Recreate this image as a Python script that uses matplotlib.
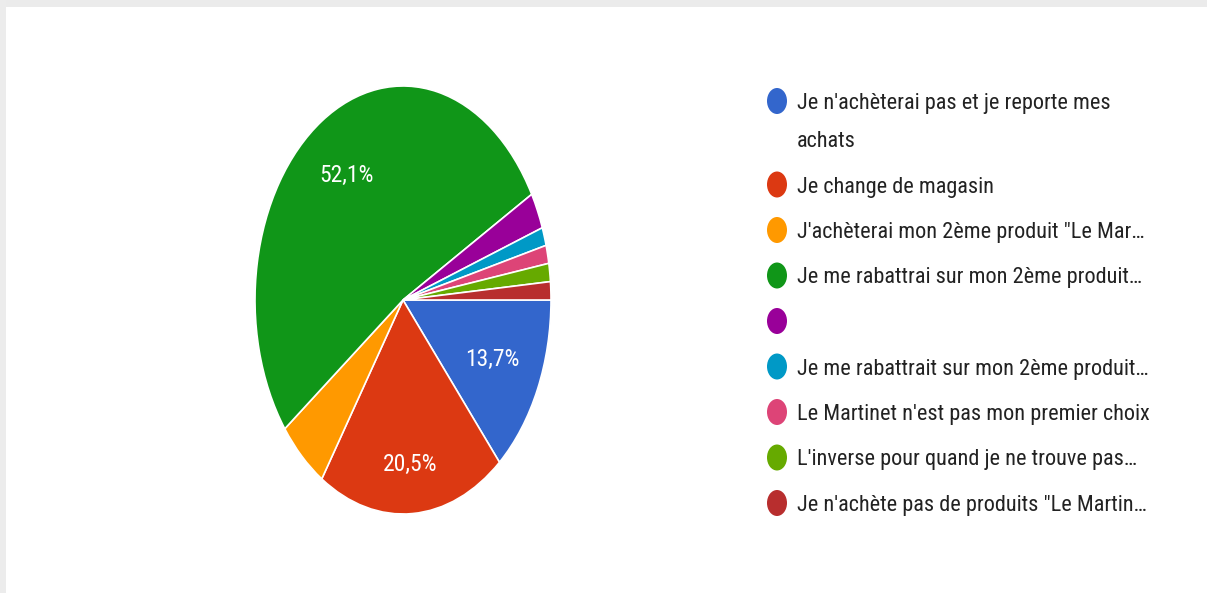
import numpy as np
import matplotlib
matplotlib.use("Agg")
import matplotlib.pyplot as plt
from matplotlib import font_manager
from matplotlib.font_manager import FontProperties
from matplotlib.patches import Ellipse, Rectangle

# Survey answers (73 respondents)
labels = [
    "Je n'achèterai pas et je reporte mes\nachats",
    "Je change de magasin",
    "J'achèterai mon 2ème produit \"Le Mar…",
    "Je me rabattrai sur mon 2ème produit…",
    "",
    "Je me rabattrait sur mon 2ème produit…",
    "Le Martinet n'est pas mon premier choix",
    "L'inverse pour quand je ne trouve pas…",
    "Je n'achète pas de produits \"Le Martin…",
]
counts = [10, 15, 4, 38, 2, 1, 1, 1, 1]
colors = ["#3366cc", "#dc3912", "#ff9900", "#109618", "#990099",
          "#0099c6", "#dd4477", "#66aa00", "#b82e2e"]

W, H = 1207, 593


def pick_font():
    """Prefer a narrow sans face; fall back to Roboto."""
    entries = font_manager.fontManager.ttflist
    names = {f.name for f in entries}
    for name in ("Roboto Condensed", "Liberation Sans Narrow",
                 "Open Sans Condensed", "Noto Sans Condensed"):
        if name in names:
            return FontProperties(family=name)
    for fam in ("Roboto", "Open Sans", "Noto Sans", "DejaVu Sans", "Lato"):
        for st in ("condensed", "semi-condensed"):
            if any(f.name == fam and f.stretch == st and f.style == "normal"
                   for f in entries):
                return FontProperties(family=fam, stretch=st)
    return FontProperties(family="Roboto")


base_font = pick_font()

fig = plt.figure(figsize=(W / 100, H / 100), dpi=100)
fig.patch.set_facecolor("white")

# page frame: grey strip on top and on the left
fig.add_artist(Rectangle((0, 1 - 7 / H), 1, 7 / H, transform=fig.transFigure,
                         facecolor="#ebebeb", edgecolor="none", zorder=0))
fig.add_artist(Rectangle((0, 0), 6 / W, 1, transform=fig.transFigure,
                         facecolor="#ececec", edgecolor="none", zorder=0))


def px_axes(x0, y0, x1, y1):
    return fig.add_axes([x0 / W, 1 - y1 / H, (x1 - x0) / W, (y1 - y0) / H])


# ---- pie (stretched vertically, as in the form summary) ----
ax = px_axes(255, 86, 551, 514)


def pct_fmt(p):
    return f"{p:.1f}%".replace(".", ",") if p > 10 else ""


wedges, texts, autotexts = ax.pie(
    counts, colors=colors, startangle=0, counterclock=False,
    autopct=pct_fmt, pctdistance=0.72,
    wedgeprops=dict(edgecolor="white", linewidth=1.2),
    textprops=dict(color="white"),
)
ax.set_aspect("auto")
ax.set_xlim(-1, 1)
ax.set_ylim(-1, 1)
ax.axis("off")

# percentage labels: radius chosen by where the slice sits
for w, t in zip(wedges, autotexts):
    if not t.get_text():
        continue
    mid = np.deg2rad((w.theta1 + w.theta2) / 2)
    r = 0.66 + 0.11 * max(0.0, -np.sin(mid)) ** 4 + 0.04 * max(0.0, np.sin(mid))
    t.set_position((r * np.cos(mid), r * np.sin(mid)))

# ---- legend drawn in a pixel-based overlay ----
lg = fig.add_axes([0, 0, 1, 1])
lg.set_xlim(0, W)
lg.set_ylim(H, 0)
lg.axis("off")
lg.set_zorder(-1)

fig.canvas.draw()
renderer = fig.canvas.get_renderer()

# size the legend font so that a reference label spans ~197 px
probe_prop = base_font.copy()
probe_prop.set_size(20)
w20, _, _ = renderer.get_text_width_height_descent("Je change de magasin", probe_prop, ismath=False)
legend_prop = base_font.copy()
legend_prop.set_size(20 * 197 / w20)

# size the percentage labels so that "52,1%" spans ~54 px
w20p, _, _ = renderer.get_text_width_height_descent("52,1%", probe_prop, ismath=False)
pct_prop = base_font.copy()
pct_prop.set_size(20 * 54 / w20p)
for t in autotexts:
    t.set_fontproperties(pct_prop)

_, cap_h, cap_d = renderer.get_text_width_height_descent("H", legend_prop, ismath=False)
_, lp_h, lp_d = renderer.get_text_width_height_descent("lp", legend_prop, ismath=False)
cap = cap_h - cap_d
line_step = 38
row_step = 45.5

y = 101
for label, color in zip(labels, colors):
    lines = label.split("\n")
    extra = len(lines) - 1
    lg.add_patch(Ellipse((777, y), 20, 26, facecolor=color, edgecolor="none"))
    spacing = 1.2
    if extra:
        _, _, d_first = renderer.get_text_width_height_descent(lines[0], legend_prop, ismath=False)
        spacing = (line_step - d_first) / (lp_h - lp_d)
    # baseline of a multi-line label refers to its last line
    lg.text(797, y + cap / 2 + line_step * extra, label, fontproperties=legend_prop,
            color="#222222", va="baseline", ha="left", linespacing=spacing)
    y += row_step + line_step * extra

fig.savefig("out.png", dpi=100, facecolor="white")
